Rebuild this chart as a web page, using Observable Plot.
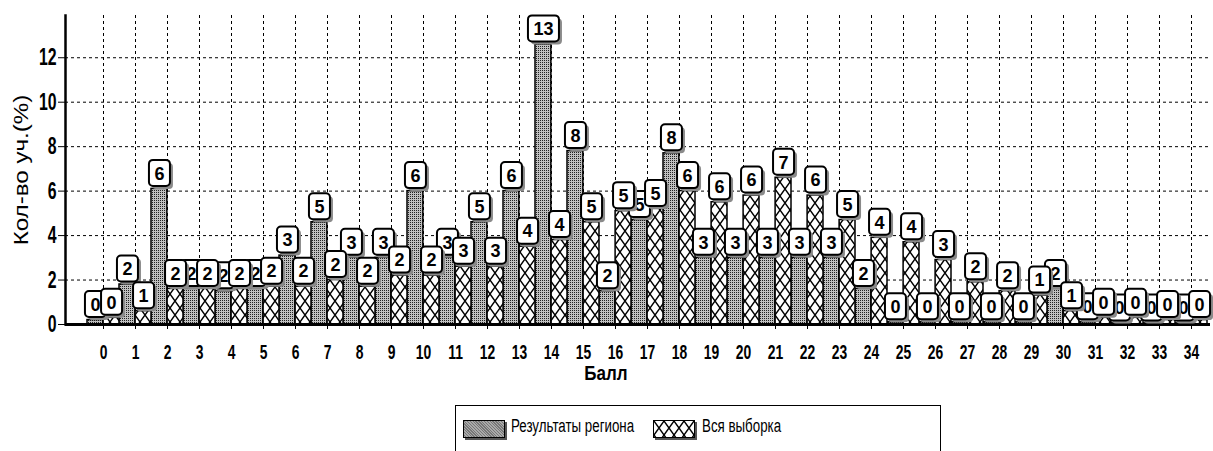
<!DOCTYPE html>
<html><head><meta charset="utf-8">
<script src="https://cdn.jsdelivr.net/npm/d3@7"></script>
<script src="https://cdn.jsdelivr.net/npm/@observablehq/plot@0.6"></script>
<style>
html,body{margin:0;padding:0;background:#fff;}
body{width:1213px;height:451px;overflow:hidden;position:relative;font-family:"Liberation Sans",Arial,sans-serif;}
#chart svg{display:block;}
#legend{position:absolute;left:455px;top:405px;width:486px;height:60px;border:1.5px solid #000;box-sizing:border-box;}
#legend .sw{position:absolute;top:14px;width:40px;height:16px;border:1.5px solid #000;box-shadow:2px 2px 0 #555;}
#legend .lt{position:absolute;top:10px;font-size:18px;color:#000;white-space:nowrap;transform:scaleX(0.74);transform-origin:0 0;}
</style></head><body>
<svg width="0" height="0" style="position:absolute">
<defs>
<pattern id="stip" width="2" height="2" patternUnits="userSpaceOnUse"><rect width="2" height="2" fill="#c0c0c0"/><rect width="1" height="1" fill="#222"/></pattern>
<pattern id="hatch" width="10" height="14" patternUnits="userSpaceOnUse"><rect width="10" height="14" fill="#fff"/><path d="M0,0L10,14M10,0L0,14" stroke="#000" stroke-width="1.4"/></pattern>
</defs></svg>
<div id="chart"></div>
<div id="legend">
  <div class="sw" style="left:7px;background:repeating-linear-gradient(45deg,#aaa 0 1px,#777 1px 2px);"></div>
  <div class="lt" id="lg1" style="left:55px;"></div>
  <div class="sw" style="left:197px;"><svg width="40" height="16"><rect width="40" height="16" fill="url(#hatch)"/></svg></div>
  <div class="lt" id="lg2" style="left:246px;"></div>
</div>
<script>
const scores = ["0","1","2","3","4","5","6","7","8","9","10","11","12","13","14","15","16","17","18","19","20","21","22","23","24","25","26","27","28","29","30","31","32","33","34"];
const region = [0.2,1.8,6.1,1.6,1.5,1.6,3.1,4.6,3.0,3.0,6.0,3.0,4.6,6.0,12.6,7.8,1.5,4.7,7.7,3.0,3.0,3.0,3.0,3.0,1.6,0.1,0.1,0.1,0.1,0.1,1.6,0.1,0.05,0.05,0.05];
const whole  = [0.3,0.6,1.6,1.6,1.6,1.7,1.7,2.0,1.7,2.2,2.2,2.6,2.6,3.5,3.8,4.6,5.1,5.2,6.0,5.5,5.8,6.6,5.8,4.7,3.9,3.7,2.9,1.9,1.5,1.3,0.6,0.3,0.3,0.2,0.2];
const yTicks = [0,2,4,6,8,10,12];
const seriesNames = ["Результаты региона","Вся выборка"];
document.getElementById("lg1").textContent = seriesNames[0];
document.getElementById("lg2").textContent = seriesNames[1];

const reg = scores.map((s,i)=>({score:s, value:region[i], label:String(Math.round(region[i]))}));
const all = scores.map((s,i)=>({score:s, value:whole[i], label:String(Math.round(whole[i]))}));

const W = 1213, H = 385;
const xr = [83, 1210];
const bw = (xr[1]-xr[0])/scores.length;
const font = "Liberation Sans, Arial, sans-serif";

function roundBox(w,h,r){
  return {draw(ctx){
    const x0=-w/2,y0=-h/2;
    ctx.moveTo(x0+r,y0); ctx.lineTo(x0+w-r,y0); ctx.arcTo(x0+w,y0,x0+w,y0+r,r);
    ctx.lineTo(x0+w,y0+h-r); ctx.arcTo(x0+w,y0+h,x0+w-r,y0+h,r);
    ctx.lineTo(x0+r,y0+h); ctx.arcTo(x0,y0+h,x0,y0+h-r,r);
    ctx.lineTo(x0,y0+r); ctx.arcTo(x0,y0,x0+r,y0,r); ctx.closePath();
  }};
}
const box1 = roundBox(21,26,4), box2 = roundBox(31,26,4);

function labelMarks(data, dx){
  const one = d => d.label.length < 2, two = d => d.label.length >= 2;
  return [
    Plot.dot(data,{filter:one,x:"score",y:"value",dx:dx+3,dy:-13,symbol:box1,fill:"#8a8a8a",stroke:"none"}),
    Plot.dot(data,{filter:two,x:"score",y:"value",dx:dx+3,dy:-13,symbol:box2,fill:"#8a8a8a",stroke:"none"}),
    Plot.dot(data,{filter:one,x:"score",y:"value",dx:dx,dy:-16,symbol:box1,fill:"#fff",stroke:"#000",strokeWidth:2}),
    Plot.dot(data,{filter:two,x:"score",y:"value",dx:dx,dy:-16,symbol:box2,fill:"#fff",stroke:"#000",strokeWidth:2}),
    Plot.text(data,{x:"score",y:"value",text:"label",dx:dx,dy:-15,fontSize:18,fontWeight:"bold",fontFamily:font,fill:"#010101"})
  ];
}

const chart = Plot.plot({
  width: W, height: H,
  marginLeft: 65, marginRight: 3, marginTop: 15, marginBottom: 61,
  style: {background:"#fff", fontFamily: font, color:"#000"},
  x: {type:"band", domain: scores, range: xr, padding: 0},
  y: {domain:[0,13.9]},
  marks: [
    Plot.gridX(scores,{stroke:"#000",strokeOpacity:1,strokeDasharray:"3,3",strokeWidth:1}),
    Plot.gridY(yTicks.filter(t=>t>0),{stroke:"#000",strokeOpacity:1,strokeDasharray:"3,3",strokeWidth:1}),
    Plot.barY(reg,{x:"score",y:"value",fill:"url(#stip)",stroke:"#000",strokeWidth:1.5,insetRight:bw/2}),
    Plot.barY(all,{x:"score",y:"value",fill:"url(#hatch)",stroke:"#000",strokeWidth:1.5,insetLeft:bw/2}),
    Plot.ruleY([0],{stroke:"#000",strokeWidth:3}),
    Plot.frame({anchor:"left",stroke:"#000",strokeWidth:2.5}),
    Plot.axisY({ticks:yTicks,tickSize:7,tickPadding:2,fontSize:24,fontWeight:"bold",label:null}),
    Plot.axisX({tickSize:5,tickPadding:15,fontSize:21,fontWeight:"bold",label:null}),
    ...labelMarks(reg,-bw/4),
    ...labelMarks(all,bw/4),
    Plot.text(["Балл"],{frameAnchor:"bottom",dy:49,dx:-32,lineAnchor:"middle",fontWeight:"bold",fontSize:20,fontFamily:font}),
    Plot.text(["Кол-во уч.(%)"],{frameAnchor:"left",dx:-44,rotate:-90,textAnchor:"middle",lineAnchor:"middle",fontSize:21,fontFamily:font})
  ]
});
document.getElementById("chart").appendChild(chart);

// simulate the condensed/stretched lettering of the reference
chart.querySelectorAll("text").forEach(t => {
  const g = t.closest("g");
  const txt = t.textContent;
  const isBoxLabel = g && g.getAttribute("fill") === "#010101";
  let sx = null;
  if (txt === "Балл") sx = 0.85;
  else if (txt.startsWith("Кол-во")) sx = 1.15;
  else if (/^\d+$/.test(txt) && !isBoxLabel) {
    const anchor = g && g.getAttribute("text-anchor");
    sx = anchor === "end" ? 0.66 : 0.66;
  }
  if (sx) {
    const L = t.getComputedTextLength();
    if (L > 0) { t.setAttribute("textLength", L * sx); t.setAttribute("lengthAdjust", "spacingAndGlyphs"); }
  }
});
</script>
</body></html>
